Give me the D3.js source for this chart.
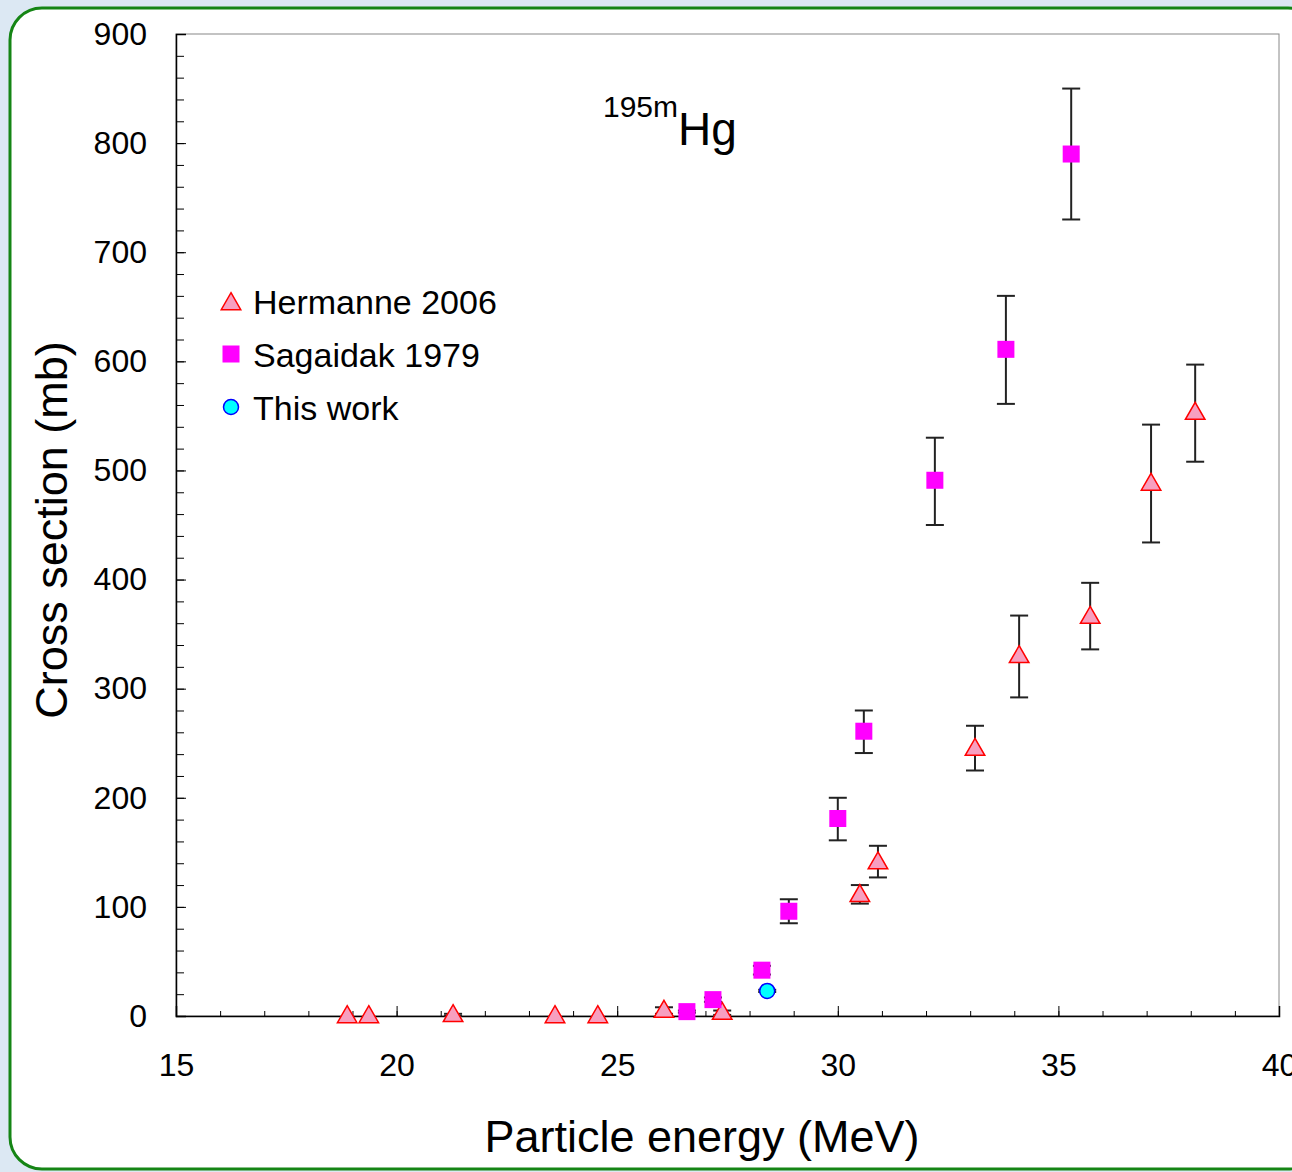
<!DOCTYPE html>
<html>
<head>
<meta charset="utf-8">
<script src="https://cdn.jsdelivr.net/npm/d3@7"></script>
<style>
body{margin:0;background:#dde9f4;}
svg{display:block;font-family:"Liberation Sans",Arial,sans-serif;}
</style>
</head>
<body>
<script>
// Hermanne 2006 (triangles)
var hermE   = [18.88,19.37,21.28,23.59,24.56,26.06,27.38,30.50,30.91,33.11,34.11,35.72,37.10,38.10];
var hermCS  = [0,0,1,0,0,5,3,111,141,245,330,366,488,553];
var hermLo  = [0,0,0,0,0,2,1,103,127,225,292,336,434,508];
var hermHi  = [0,0,2,0,0,8,5,120,156,266,367,397,542,597];
// Sagaidak 1979 (squares)
var sagE   = [26.58,27.17,28.28,28.89,30.00,30.59,32.20,33.81,35.29];
var sagCS  = [4,15,42,96,181,261,491,611,790];
var sagLo  = [3,13,38,85,161,241,450,561,730];
var sagHi  = [5,17,46,107,200,280,530,660,850];
// This work
var thisE  = [28.40];
var thisCS = [23];
var thisLo = [22];
var thisHi = [24];

var xTicks = [15,20,25,30,35,40];
var yTicks = [0,100,200,300,400,500,600,700,800,900];

var W = 1292, H = 1172;
var svg = d3.select("body").append("svg").attr("width",W).attr("height",H);

// light blue background + white panel with green rounded border
var bg = svg.append("g");
bg.append("rect").attr("width",W).attr("height",H).attr("fill","#dce8f3");
bg.append("rect").attr("x",10).attr("y",8).attr("width",1310).attr("height",1161)
  .attr("rx",32).attr("ry",32).attr("fill","#fff").attr("stroke","#158515").attr("stroke-width",3);

var margin = {left:176, top:34, right:1279, bottom:1016};
var x = d3.scaleLinear().domain([15,40]).range([margin.left,margin.right]);
var y = d3.scaleLinear().domain([0,900]).range([margin.bottom,margin.top]);

// frame
svg.append("rect").attr("x",margin.left).attr("y",margin.top)
  .attr("width",margin.right-margin.left).attr("height",margin.bottom-margin.top)
  .attr("fill","none").attr("stroke","#888").attr("stroke-width",1);

// x axis (ticks inward)
var xAxisMinor = d3.axisBottom(x).tickValues(d3.range(15,41,1)).tickSize(-5).tickFormat("");
svg.append("g").attr("transform","translate(0,"+margin.bottom+")").call(xAxisMinor)
  .call(function(g){g.select(".domain").remove();});
var xAxis = d3.axisBottom(x).tickValues(xTicks).tickSize(-10).tickPadding(37).tickFormat(d3.format("d"));
var gx = svg.append("g").attr("transform","translate(0,"+margin.bottom+")").call(xAxis);
gx.select(".domain").attr("stroke","#000").attr("stroke-width",1.5);
gx.selectAll("text").attr("font-size",32).attr("font-family","Liberation Sans, Arial").attr("fill","#000");

// y axis
var yAxisMinor = d3.axisLeft(y).tickValues(d3.range(0,901,20)).tickSize(-8).tickFormat("");
svg.append("g").attr("transform","translate("+margin.left+",0)").call(yAxisMinor)
  .call(function(g){g.select(".domain").remove();});
var yAxis = d3.axisLeft(y).tickValues(yTicks).tickSize(-10).tickPadding(29).tickFormat(d3.format("d"));
var gy = svg.append("g").attr("transform","translate("+margin.left+",0)").call(yAxis);
gy.select(".domain").attr("stroke","#000").attr("stroke-width",1.5);
gy.selectAll("text").attr("font-size",32).attr("font-family","Liberation Sans, Arial").attr("fill","#000");

svg.selectAll(".tick line").attr("stroke","#000");

// axis titles
svg.append("text").attr("x",702).attr("y",1152).attr("text-anchor","middle")
  .attr("font-size",45).text("Particle energy (MeV)");
svg.append("text").attr("transform","translate(67,530) rotate(-90)").attr("text-anchor","middle")
  .attr("font-size",45).text("Cross section (mb)");

// title
var t = svg.append("text").attr("x",603).attr("y",145);
t.append("tspan").attr("font-size",30).attr("dy",-28).text("195m");
t.append("tspan").attr("font-size",46).attr("dy",28).text("Hg");

function zip(e,c,lo,hi){ return e.map(function(d,i){return {e:d,c:c[i],lo:lo[i],hi:hi[i]};}); }
var herm = zip(hermE,hermCS,hermLo,hermHi);
var sag = zip(sagE,sagCS,sagLo,sagHi);
var mine = zip(thisE,thisCS,thisLo,thisHi);

function errBars(data){
  var g = svg.append("g").attr("stroke","#222").attr("stroke-width",2);
  data.forEach(function(d){
    if (d.hi-d.lo < 1) return;
    g.append("line").attr("x1",x(d.e)).attr("x2",x(d.e)).attr("y1",y(d.lo)).attr("y2",y(d.hi));
    g.append("line").attr("x1",x(d.e)-9).attr("x2",x(d.e)+9).attr("y1",y(d.lo)).attr("y2",y(d.lo));
    g.append("line").attr("x1",x(d.e)-9).attr("x2",x(d.e)+9).attr("y1",y(d.hi)).attr("y2",y(d.hi));
  });
}
errBars(herm); errBars(sag); errBars(mine);

var triPath = d3.symbol().type(d3.symbolTriangle).size(165);
svg.append("g").selectAll("path").data(herm).enter().append("path")
  .attr("d",triPath)
  .attr("transform",function(d){return "translate("+x(d.e)+","+(y(d.c)+1)+")";})
  .attr("fill","#f79fc0").attr("stroke","#ff0000").attr("stroke-width",1.5);

svg.append("g").selectAll("rect").data(sag).enter().append("rect")
  .attr("x",function(d){return x(d.e)-8.5;})
  .attr("y",function(d){return y(d.c)-8.5;})
  .attr("width",17).attr("height",17).attr("fill","#ff00ff");

svg.append("g").selectAll("circle").data(mine).enter().append("circle")
  .attr("cx",function(d){return x(d.e);}).attr("cy",function(d){return y(d.c);})
  .attr("r",7.5).attr("fill","#00ffff").attr("stroke","#0000ff").attr("stroke-width",1.5);

// legend
var leg = svg.append("g");
var legNames = ["Hermanne 2006","Sagaidak 1979","This work"];
leg.append("path").attr("d",triPath).attr("transform","translate(231,304)")
  .attr("fill","#f79fc0").attr("stroke","#ff0000").attr("stroke-width",1.5);
leg.append("rect").attr("x",222.5).attr("y",345.5).attr("width",17).attr("height",17).attr("fill","#ff00ff");
leg.append("circle").attr("cx",231).attr("cy",407).attr("r",7.5)
  .attr("fill","#00ffff").attr("stroke","#0000ff").attr("stroke-width",1.5);
legNames.forEach(function(n,i){
  leg.append("text").attr("x",253).attr("y",314+i*53).attr("font-size",34).text(n);
});
</script>
</body>
</html>
